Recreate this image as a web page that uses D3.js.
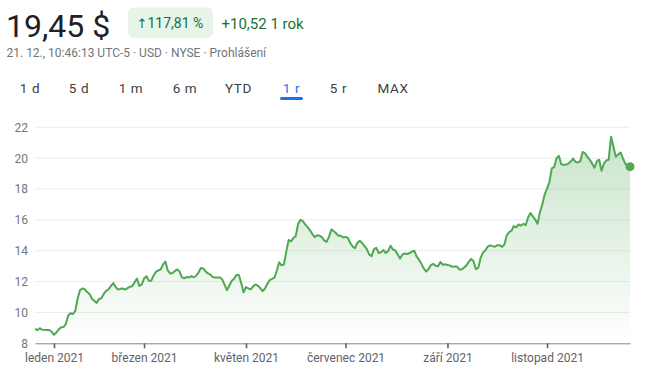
<!DOCTYPE html>
<html><head><meta charset="utf-8">
<script src="https://cdn.jsdelivr.net/npm/d3@7/dist/d3.min.js"></script>
<style>
body{margin:0;background:#fff;}
svg{display:block;font-family:Roboto,Arial,sans-serif;}
</style>
</head><body>
<svg id="c" width="650" height="380"></svg>
<script>
// ---- data ----
const firstTradingDay = -8; // 21. 12. 2020 (index 0 = first trading day of 2021)
const prices = [
 8.93, 8.85, 8.98, 8.88, 8.87, 8.86, 8.86, 8.76,
 8.55, 8.70, 8.90, 9.04, 9.05, 9.25, 9.80, 9.95, 9.90, 10.10,
 10.90, 11.45, 11.55, 11.50, 11.32, 11.20, 10.90, 10.75, 10.62, 10.87,
 10.92, 11.20, 11.40, 11.50, 11.70, 11.90, 11.65, 11.48, 11.53, 11.55,
 11.48, 11.58, 11.66, 11.70, 11.95, 12.20, 11.72, 11.80, 12.20, 12.35,
 12.05, 12.05, 12.38, 12.63, 12.72, 12.78, 13.10, 13.30, 12.72, 12.53,
 12.55, 12.68, 12.79, 12.65, 12.27, 12.21, 12.30, 12.27, 12.36, 12.28,
 12.38, 12.60, 12.88, 12.85, 12.65, 12.53, 12.45, 12.29, 12.26, 12.26,
 12.27, 12.15, 11.78, 11.45, 11.75, 12.05, 12.18, 12.42, 12.43, 11.90,
 11.30, 11.65, 11.55, 11.50, 11.68, 11.81, 11.74, 11.58, 11.38, 11.55,
 11.85, 12.10, 12.17, 12.25, 12.70, 13.25, 13.05, 13.10, 13.94, 14.70,
 14.60, 14.82, 14.95, 15.75, 16.00, 15.92, 15.70, 15.53, 15.32, 15.08,
 14.88, 15.01, 14.98, 14.88, 14.67, 14.58, 14.90, 15.38, 15.27, 15.13,
 14.97, 14.97, 14.86, 14.90, 14.83, 14.50, 14.27, 14.17, 14.52, 14.65,
 14.50, 14.30, 14.10, 13.75, 13.65, 14.10, 14.19, 13.85, 13.90, 14.04,
 13.85, 14.00, 14.32, 14.08, 14.02, 13.75, 13.50, 13.76, 13.82, 13.79,
 13.85, 13.94, 14.00, 13.62, 13.42, 13.15, 12.85, 12.65, 12.80, 13.07,
 13.15, 13.03, 12.99, 13.27, 13.09, 13.12, 13.07, 13.05, 12.96, 12.97,
 12.97, 12.79, 12.78, 12.92, 13.05, 13.28, 13.47, 13.32, 12.80, 12.90,
 13.55, 13.88, 14.03, 14.27, 14.35, 14.30, 14.26, 14.36, 14.36, 14.25,
 14.40, 15.00, 15.20, 15.30, 15.60, 15.52, 15.70, 15.63, 15.75, 15.65,
 16.15, 16.45, 16.22, 16.03, 15.75, 16.50, 17.00, 17.65, 18.03, 18.45,
 19.34, 19.42, 20.00, 20.15, 19.60, 19.58, 19.58, 19.65, 19.78, 19.97,
 19.76, 19.72, 19.80, 20.40, 20.32, 20.10, 19.90, 19.66, 19.38, 19.80,
 19.90, 19.18, 19.65, 19.85, 19.90, 21.39, 20.75, 20.10, 20.23, 20.37,
 20.00, 19.65, 19.47, 19.45
];
const tradingDays = prices.map((_, i) => firstTradingDay + i);
const xTickDays = [0, 38, 81, 123, 166, 208];
const xTickLabels = ["leden 2021", "březen 2021", "květen 2021", "červenec 2021", "září 2021", "listopad 2021"];
const yTicks = [8, 10, 12, 14, 16, 18, 20, 22];
const rangeTabs = ["1 d", "5 d", "1 m", "6 m", "YTD", "1 r", "5 r", "MAX"];
const activeTab = "1 r";
const priceText = "19,45 $";
const changeArrow = "↑";
const changePct = "117,81 %";
const changeAbs = "+10,52 1 rok";
const subtitle = "21. 12., 10:46:13 UTC-5 · USD · NYSE · Prohlášení";

// ---- drawing ----
const svg = d3.select("#c");
const green = "#4fa852";
const data = tradingDays.map((d, i) => ({d, v: prices[i]}));

const x = d3.scaleLinear().domain([firstTradingDay, d3.max(tradingDays)]).range([35, 630]);
const y = d3.scaleLinear().domain([8, 22]).range([343.3, 127.3]);

// header
svg.append("text").attr("x", 6).attr("y", 36.5).attr("font-size", 32).attr("fill", "#202124").text(priceText);
svg.append("rect").attr("x", 128).attr("y", 7.5).attr("width", 85).attr("height", 30.5).attr("rx", 6).attr("fill", "#e6f4ea");
const badge = svg.append("text").attr("x", 136.5).attr("y", 28.3).attr("font-size", 14).attr("fill", "#137333");
badge.append("tspan").attr("font-family", "DejaVu Sans").attr("font-size", 13).text(changeArrow);
badge.append("tspan").text(changePct);
svg.append("text").attr("x", 221.5).attr("y", 28.5).attr("font-size", 15).attr("fill", "#137333").text(changeAbs);
svg.append("text").attr("x", 6.5).attr("y", 57).attr("font-size", 12).attr("fill", "#70757a").text(subtitle);

// tabs
const tabCenters = [30, 79, 131, 185, 238.5, 291.5, 338.5, 393];
const tabs = svg.append("g");
rangeTabs.forEach((t, i) => {
  tabs.append("text").attr("x", tabCenters[i]).attr("y", 93).attr("text-anchor", "middle")
    .attr("font-size", 13.5).attr("letter-spacing", 0.6)
    .attr("fill", t === activeTab ? "#1a73e8" : "#3c4043").text(t);
  if (t === activeTab) {
    tabs.append("rect").attr("x", tabCenters[i] - 11.5).attr("y", 97).attr("width", 23).attr("height", 3)
      .attr("rx", 1.5).attr("fill", "#1a73e8");
  }
});

// gridlines
svg.append("g").selectAll("line").data(yTicks.filter(t => t > 8)).join("line")
  .attr("x1", 35).attr("x2", 630).attr("y1", d => y(d)).attr("y2", d => y(d))
  .attr("stroke", "#ececec").attr("stroke-width", 1);

// y labels
const yAxis = svg.append("g").attr("transform", "translate(28,0)")
  .call(d3.axisLeft(y).tickValues(yTicks).tickSize(0).tickPadding(0).tickFormat(d3.format("d")));
yAxis.select(".domain").remove();
yAxis.selectAll("text").attr("font-size", 12).attr("fill", "#70757a").attr("font-family", "Roboto,Arial,sans-serif");

// area gradient
const defs = svg.append("defs");
const grad = defs.append("linearGradient").attr("id", "ag").attr("gradientUnits", "userSpaceOnUse")
  .attr("x1", 0).attr("x2", 0).attr("y1", y(22)).attr("y2", y(8));
grad.append("stop").attr("offset", 0).attr("stop-color", green).attr("stop-opacity", 0.32);
grad.append("stop").attr("offset", 1).attr("stop-color", green).attr("stop-opacity", 0);

svg.append("path").datum(data)
  .attr("d", d3.area().x(p => x(p.d)).y0(y(8)).y1(p => y(p.v)))
  .attr("fill", "url(#ag)");

svg.append("path").datum(data)
  .attr("d", d3.line().x(p => x(p.d)).y(p => y(p.v)))
  .attr("fill", "none").attr("stroke", green).attr("stroke-width", 2).attr("stroke-linejoin", "round");

const last = data[data.length - 1];
svg.append("circle").attr("cx", x(last.d)).attr("cy", y(last.v)).attr("r", 4.5).attr("fill", green);

// x axis
const xAxis = svg.append("g").attr("transform", `translate(0,${y(8)})`)
  .call(d3.axisBottom(x).tickValues(xTickDays).tickSize(5).tickSizeOuter(0).tickPadding(5)
    .tickFormat((d, i) => xTickLabels[i]));
xAxis.select(".domain").attr("stroke", "#80868b").attr("stroke-width", 1);
xAxis.selectAll(".tick line").attr("stroke", "#5f6368").attr("stroke-width", 1.6);
xAxis.selectAll("text").attr("font-size", 12).attr("fill", "#5f6368").attr("font-family", "Roboto,Arial,sans-serif");
</script>
</body></html>
